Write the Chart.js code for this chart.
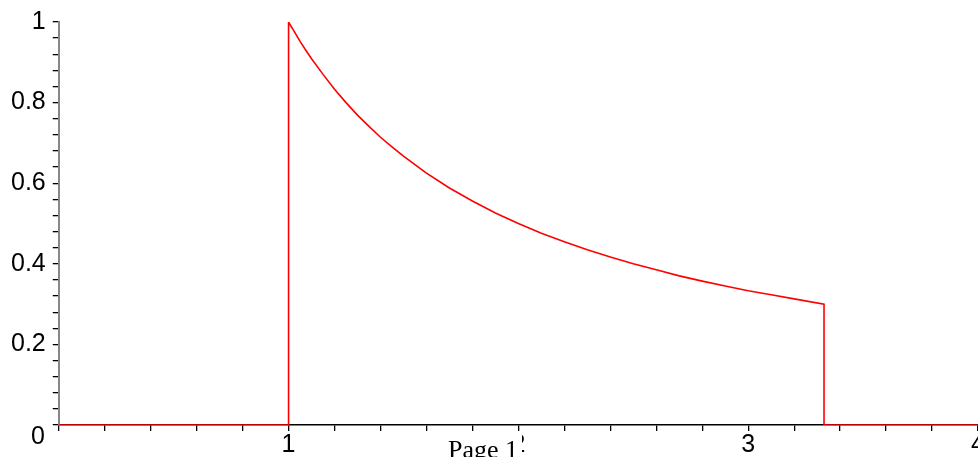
<!DOCTYPE html>
<html lang="en">
<head>
  <meta charset="UTF-8" />
  <title>Step 1/x plot</title>
  <style>
    html, body { margin: 0; padding: 0; background: #fff; }
    #wrap { width: 978px; height: 457px; }
  </style>
</head>
<body>
  <div id="wrap"><canvas id="myChart"></canvas></div>

  <script src="https://cdn.jsdelivr.net/npm/chart.js"></script>
  <script>
    // values
    const curveX = [0, 1, 1, 1.025, 1.05, 1.075, 1.1, 1.15, 1.2, 1.25, 1.3, 1.35, 1.4, 1.45, 1.5, 1.6, 1.7, 1.8, 1.9, 2.0, 2.1, 2.2, 2.3, 2.4, 2.5, 2.6, 2.7, 2.8, 2.9, 3.0, 3.1, 3.2, 3.33, 3.33, 4];
    const curveY = [0, 0, 1, 0.976, 0.952, 0.93, 0.909, 0.87, 0.833, 0.8, 0.769, 0.741, 0.714, 0.69, 0.667, 0.625, 0.588, 0.556, 0.526, 0.5, 0.476, 0.455, 0.435, 0.417, 0.4, 0.385, 0.37, 0.357, 0.345, 0.333, 0.323, 0.313, 0.3, 0, 0];
    const xLabels = [1, 2, 3, 4];
    const yLabels = [0.2, 0.4, 0.6, 0.8, 1];

    const points = curveX.map((x, i) => ({ x: x, y: curveY[i] }));
    const near = (v, list) => list.some(l => Math.abs(l - v) < 1e-6);
    const tickFont = { family: 'Liberation Sans, Arial, sans-serif', size: 25, lineHeight: 1 };

    // overlay: the "Page 1" footer and the origin zero
    const extras = {
      id: 'extras',
      afterDraw(chart) {
        const c = chart.ctx;
        c.save();
        c.fillStyle = '#fff';
        c.fillRect(446, 433, 76, 24);
        c.fillStyle = '#000';
        c.font = '26px "Liberation Serif", "Times New Roman", serif';
        c.textBaseline = 'alphabetic';
        c.fillText('Page 1', 448, 458);
        c.font = '25px "Liberation Sans", Arial, sans-serif';
        c.textAlign = 'right';
        c.textBaseline = 'middle';
        c.fillText('0', 45, 437);
        c.restore();
      }
    };

    const context = document.getElementById('myChart').getContext('2d');
    const myChart = new Chart(context, {
      type: 'scatter',
      data: {
        datasets: [{
          data: points,
          showLine: true,
          borderColor: '#ff0000',
          borderWidth: 1.6,
          pointRadius: 0,
          tension: 0
        }]
      },
      plugins: [extras],
      options: {
        responsive: true,
        maintainAspectRatio: false,
        animation: false,
        layout: { padding: { left: 4, top: 22, right: 0, bottom: 0 } },
        plugins: {
          legend: { display: false },
          tooltip: { enabled: false }
        },
        scales: {
          x: {
            type: 'linear',
            min: 0,
            max: 4,
            afterBuildTicks(scale) {
              scale.ticks = [];
              for (let i = 0; i <= 20; i++) scale.ticks.push({ value: i * 0.2 });
            },
            afterFit(scale) { scale.paddingRight = 0; scale.paddingLeft = 0; scale.height = 32; },
            grid: { drawOnChartArea: false, drawTicks: true, tickLength: 6, tickColor: '#000', lineWidth: 1.3 },
            border: { display: true, color: '#000', width: 1.5 },
            ticks: {
              autoSkip: false,
              maxRotation: 0,
              padding: 2,
              color: '#000',
              font: tickFont,
              callback: (v) => near(v, xLabels) ? String(Math.round(v)) : ''
            }
          },
          y: {
            type: 'linear',
            min: 0,
            max: 1,
            afterBuildTicks(scale) {
              scale.ticks = [];
              for (let i = 0; i <= 25; i++) scale.ticks.push({ value: i * 0.04 });
            },
            grid: { drawOnChartArea: false, drawTicks: true, tickLength: 6, tickColor: '#000', lineWidth: 1.3 },
            border: { display: true, color: '#888', width: 2 },
            ticks: {
              autoSkip: false,
              padding: 7,
              color: '#000',
              font: tickFont,
              callback: (v) => near(v, yLabels) ? (Math.abs(v - 1) < 1e-6 ? '1' : String(Math.round(v * 10) / 10)) : ''
            }
          }
        }
      }
    });
  </script>
</body>
</html>
